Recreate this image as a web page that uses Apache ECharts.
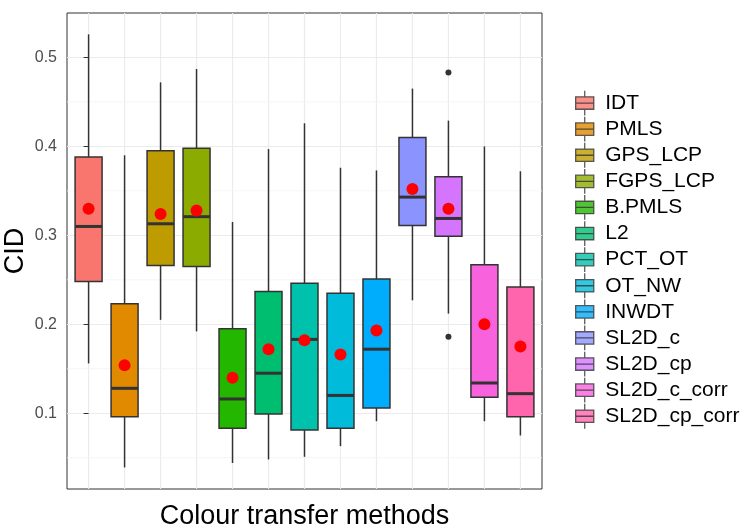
<!DOCTYPE html>
<html>
<head>
<meta charset="utf-8">
<script src="https://cdn.jsdelivr.net/npm/echarts@6/dist/echarts.min.js"></script>
<style>
  html, body { margin: 0; padding: 0; background: #fff; }
  #chart { width: 747px; height: 531px; }
</style>
</head>
<body>
<div id="chart"></div>
<script>
// ---- data ----
const methods = ['IDT', 'PMLS', 'GPS_LCP', 'FGPS_LCP', 'B.PMLS', 'L2', 'PCT_OT',
  'OT_NW', 'INWDT', 'SL2D_c', 'SL2D_cp', 'SL2D_c_corr', 'SL2D_cp_corr'];
const colours = ['#F8766D', '#E18A00', '#BE9C00', '#8CAB00', '#24B700', '#00BE70', '#00C1AB',
  '#00BBDA', '#00ACFC', '#8B93FF', '#D575FE', '#F962DD', '#FF65AC'];
const whiskerLow  = [0.156, 0.039, 0.205, 0.192, 0.044, 0.048, 0.051, 0.063, 0.091, 0.227, 0.212, 0.091, 0.075];
const q1          = [0.248, 0.096, 0.266, 0.265, 0.083, 0.099, 0.081, 0.083, 0.106, 0.311, 0.299, 0.118, 0.096];
const median      = [0.310, 0.128, 0.313, 0.321, 0.116, 0.145, 0.183, 0.120, 0.172, 0.343, 0.319, 0.134, 0.122];
const q3          = [0.388, 0.223, 0.395, 0.398, 0.195, 0.237, 0.246, 0.235, 0.251, 0.410, 0.366, 0.267, 0.242];
const whiskerHigh = [0.526, 0.390, 0.472, 0.487, 0.315, 0.397, 0.426, 0.376, 0.373, 0.465, 0.429, 0.400, 0.372];
const means       = [0.330, 0.154, 0.324, 0.328, 0.140, 0.172, 0.182, 0.166, 0.193, 0.352, 0.330, 0.200, 0.175];
const outliers = [[10, 0.483], [10, 0.186]];
const yTicks = [0.1, 0.2, 0.3, 0.4, 0.5];
const yMinor = [0.05, 0.15, 0.25, 0.35, 0.45];

const chart = echarts.init(document.getElementById('chart'));
const FONT = '"Liberation Sans", Arial, Helvetica, sans-serif';
const EDGE = '#333333';

// legend key: box with median and whiskers (ggplot style)
const keyIcon = 'path://M9.5,0 L9.5,6.5 M0,6.5 L19,6.5 L19,19.5 L0,19.5 Z M0,13 L19,13 M9.5,19.5 L9.5,26';

function renderBox(params, api) {
  const i = api.value(0);
  const lo = api.coord([i, api.value(1)]);
  const b1 = api.coord([i, api.value(2)]);
  const md = api.coord([i, api.value(3)]);
  const b3 = api.coord([i, api.value(4)]);
  const hi = api.coord([i, api.value(5)]);
  const half = api.size([0.75, 0])[0] / 2;
  const x = lo[0];
  return {
    type: 'group',
    children: [
      { type: 'line', shape: { x1: x, y1: lo[1], x2: x, y2: b1[1] }, style: { stroke: EDGE, lineWidth: 1.5 } },
      { type: 'line', shape: { x1: x, y1: b3[1], x2: x, y2: hi[1] }, style: { stroke: EDGE, lineWidth: 1.5 } },
      { type: 'rect', shape: { x: x - half, y: b3[1], width: half * 2, height: b1[1] - b3[1] },
        style: { fill: colours[i], stroke: EDGE, lineWidth: 1.5 } },
      { type: 'line', shape: { x1: x - half, y1: md[1], x2: x + half, y2: md[1] }, style: { stroke: EDGE, lineWidth: 3 } }
    ]
  };
}

// vertical grid lines at each category
function renderVGrid(params, api) {
  const p = api.coord([api.value(0), 0.3]);
  const cs = params.coordSys;
  return { type: 'line', shape: { x1: p[0], y1: cs.y, x2: p[0], y2: cs.y + cs.height },
    style: { stroke: '#ebebeb', lineWidth: 1.2 } };
}

// minor horizontal grid lines
function renderHMinor(params, api) {
  const p = api.coord([0, api.value(0)]);
  const cs = params.coordSys;
  return { type: 'line', shape: { x1: cs.x, y1: p[1], x2: cs.x + cs.width, y2: p[1] },
    style: { stroke: '#f2f2f2', lineWidth: 0.8 } };
}

const boxData = methods.map((m, i) => [i, whiskerLow[i], q1[i], median[i], q3[i], whiskerHigh[i]]);

const option = {
  backgroundColor: '#fff',
  animation: false,
  textStyle: { fontFamily: FONT },
  grid: {
    left: 67, top: 13, right: 205, bottom: 42,
    outerBoundsMode: 'none',
    containLabel: false,
    show: true, borderColor: EDGE, borderWidth: 1, backgroundColor: 'transparent'
  },
  legend: {
    orient: 'vertical',
    left: 570,
    top: 85,
    itemWidth: 19,
    itemHeight: 24.8,
    itemGap: 0,
    selectedMode: false,
    itemStyle: { borderColor: EDGE, borderWidth: 1.3 },
    textStyle: { fontSize: 21, lineHeight: 24, color: '#000', fontFamily: FONT, padding: [0, 0, 0, 6] },
    data: methods.map(name => ({ name: name, icon: keyIcon }))
  },
  xAxis: {
    type: 'value',
    min: -0.6,
    max: 12.6,
    name: 'Colour transfer methods',
    nameLocation: 'middle',
    nameGap: 14,
    nameMoveOverlap: false,
    nameTextStyle: { fontSize: 27, color: '#000', fontFamily: FONT },
    axisLine: { show: false },
    axisTick: { show: false },
    axisLabel: { show: false },
    splitLine: { show: false }
  },
  yAxis: {
    type: 'value',
    min: 0.0148,
    max: 0.55,
    name: 'CID',
    nameLocation: 'middle',
    nameGap: 38,
    nameMoveOverlap: false,
    nameTextStyle: { fontSize: 27, color: '#000', fontFamily: FONT },
    axisLine: { show: false },
    axisTick: { show: true, length: 5, customValues: yTicks, lineStyle: { color: EDGE, width: 1 } },
    axisLabel: { customValues: yTicks, margin: 10, fontSize: 16, color: '#4d4d4d', fontFamily: FONT,
      formatter: v => v.toFixed(1) },
    splitLine: { show: true, lineStyle: { color: '#ebebeb', width: 1.2 } }
  },
  series: [
    {
      type: 'custom', name: 'vgrid', silent: true, z: 0,
      renderItem: renderVGrid,
      data: methods.map((m, i) => [i])
    },
    {
      type: 'custom', name: 'hminor', silent: true, z: 0,
      renderItem: renderHMinor,
      data: yMinor.map(v => [v]),
      encode: { y: 0 }
    },
    {
      type: 'custom', name: 'boxes', z: 2,
      renderItem: renderBox,
      encode: { x: 0, y: [1, 2, 3, 4, 5] },
      data: boxData
    },
    {
      type: 'scatter', name: 'outliers', z: 3,
      symbolSize: 6,
      itemStyle: { color: EDGE, opacity: 1 },
      data: outliers
    },
    {
      type: 'scatter', name: 'means', z: 4,
      symbolSize: 12,
      itemStyle: { color: '#ff0000', opacity: 1 },
      data: means.map((v, i) => [i, v])
    }
  ].concat(methods.map((m, i) => ({
    type: 'scatter', name: m, data: [], itemStyle: { color: colours[i] }
  })))
};

chart.setOption(option);
</script>
</body>
</html>
